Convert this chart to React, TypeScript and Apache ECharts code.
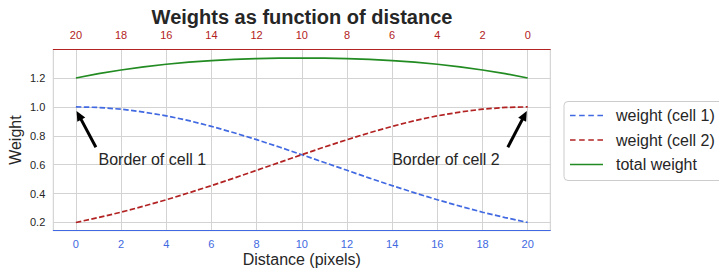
import React, { useEffect, useRef } from "react";
import * as echarts from "echarts";

// ---- data ----
const distances = [0, 1, 2, 3, 4, 5, 6, 7, 8, 9, 10, 11, 12, 13, 14, 15, 16, 17, 18, 19, 20];
const weightCell1 = [1.0, 0.996, 0.984, 0.964, 0.938, 0.905, 0.865, 0.821, 0.773, 0.722, 0.669, 0.615, 0.561, 0.507, 0.455, 0.405, 0.357, 0.313, 0.271, 0.234, 0.2];
const weightCell2 = [0.2, 0.234, 0.271, 0.313, 0.357, 0.405, 0.455, 0.507, 0.561, 0.615, 0.669, 0.722, 0.773, 0.821, 0.865, 0.905, 0.938, 0.964, 0.984, 0.996, 1.0];
const totalWeight = [1.2, 1.23, 1.255, 1.277, 1.295, 1.31, 1.32, 1.328, 1.334, 1.337, 1.338, 1.337, 1.334, 1.328, 1.32, 1.31, 1.295, 1.277, 1.255, 1.23, 1.2];

const seriesNames = ["weight (cell 1)", "weight (cell 2)", "total weight"];
const xTicks = [0, 2, 4, 6, 8, 10, 12, 14, 16, 18, 20];
const yTicks = [0.2, 0.4, 0.6, 0.8, 1.0, 1.2];

// annotations: text, text position (data), arrow tail (data), arrow tip (data)
const annotationTexts = ["Border of cell 1", "Border of cell 2"];
const annotationTextPos = [[1, 0.6], [14, 0.6]];
const arrowTails = [[0.886, 0.721], [19.12, 0.721]];
const arrowTips = [[0.03, 0.972], [19.96, 0.972]];

const FONT = "'Liberation Sans', Arial, sans-serif";
const BLUE = "#4169e1";
const RED = "#b22222";
const GREEN = "#228b22";
const DARK = "#262626";
const GRID = "#d3d3d3";

const dashIcon = "path://M0,0h5.3v1.5h-5.3z M8.7,0h5.3v1.5h-5.3z M17.4,0h5.3v1.5h-5.3z M26.1,0h5.3v1.5h-5.3z";
const solidIcon = "path://M0,0h31.4v1.5h-31.4z";

export default function App() {
  const ref = useRef<HTMLDivElement>(null);
  useEffect(() => {
    if (!ref.current) return;
    const chart = echarts.init(ref.current, null, { renderer: "svg" });
    const pts = (ys: number[]) => distances.map((d, i) => [d, ys[i]]);
    const option: any = {
      animation: false,
      backgroundColor: "#ffffff",
      textStyle: { fontFamily: FONT },
      title: {
        text: "Weights as function of distance",
        left: 302,
        top: 7,
        padding: 0,
        textAlign: "center",
        textStyle: { fontFamily: FONT, fontSize: 20, fontWeight: "bold", color: DARK },
      },
      grid: {
        left: 53.3,
        right: 168.7,
        top: 49.5,
        bottom: 38.3,
        show: true,
        borderColor: "#cccccc",
        borderWidth: 1,
        backgroundColor: "transparent",
        containLabel: false,
        outerBoundsMode: "none",
      },
      legend: {
        orient: "vertical",
        left: 564,
        top: 101.5,
        padding: [6, 30, 8, 6],
        itemWidth: 33,
        itemHeight: 1.6,
        itemGap: 8.5,
        borderColor: "#cccccc",
        borderWidth: 1,
        borderRadius: 4,
        backgroundColor: "#ffffff",
        textStyle: { fontFamily: FONT, fontSize: 16, color: DARK, lineHeight: 16, padding: [0, 0, 0, 8] },
        data: [
          { name: seriesNames[0], icon: dashIcon },
          { name: seriesNames[1], icon: dashIcon },
          { name: seriesNames[2], icon: solidIcon },
        ],
      },
      xAxis: [
        {
          type: "value",
          position: "bottom",
          min: -1,
          max: 21,
          name: "Distance (pixels)",
          nameLocation: "middle",
          nameGap: 21,
          nameMoveOverlap: false,
          nameTextStyle: { fontFamily: FONT, fontSize: 16, color: DARK, lineHeight: 16 },
          axisLine: { show: true, onZero: false, lineStyle: { color: BLUE, width: 1 } },
          axisTick: { show: false, customValues: xTicks },
          axisLabel: { customValues: xTicks, color: BLUE, fontSize: 11, margin: 8, fontFamily: FONT },
          splitLine: { show: true, lineStyle: { color: GRID, width: 1 } },
        },
        {
          type: "value",
          position: "top",
          inverse: true,
          min: -1,
          max: 21,
          axisLine: { show: true, onZero: false, lineStyle: { color: RED, width: 1 } },
          axisTick: { show: false, customValues: xTicks },
          axisLabel: { customValues: xTicks, color: RED, fontSize: 11, margin: 9, fontFamily: FONT },
          splitLine: { show: false },
        },
      ],
      yAxis: {
        type: "value",
        position: "left",
        min: 0.143,
        max: 1.397,
        name: "Weight",
        nameLocation: "middle",
        nameGap: 30,
        nameMoveOverlap: false,
        nameRotate: 90,
        nameTextStyle: { fontFamily: FONT, fontSize: 16, color: DARK },
        axisLine: { show: false, onZero: false },
        axisTick: { show: false, customValues: yTicks },
        axisLabel: {
          customValues: yTicks,
          color: DARK,
          fontSize: 11,
          margin: 8,
          fontFamily: FONT,
          formatter: (v: number) => v.toFixed(1),
        },
        splitLine: { show: true, lineStyle: { color: GRID, width: 1 } },
      },
      series: [
        {
          name: seriesNames[0],
          type: "line",
          data: pts(weightCell1),
          showSymbol: false,
          color: BLUE,
          lineStyle: { color: BLUE, width: 1.7, type: [5.5, 2.4] },
        },
        {
          name: seriesNames[1],
          type: "line",
          data: pts(weightCell2),
          showSymbol: false,
          color: RED,
          lineStyle: { color: RED, width: 1.7, type: [5.5, 2.4] },
        },
        {
          name: seriesNames[2],
          type: "line",
          data: pts(totalWeight),
          showSymbol: false,
          color: GREEN,
          lineStyle: { color: GREEN, width: 1.7 },
        },
      ],
    };
    chart.setOption(option);

    const graphics: any[] = [];
    annotationTexts.forEach((t, i) => {
      const tp = chart.convertToPixel({ gridIndex: 0 }, annotationTextPos[i]) as number[];
      graphics.push({
        type: "text",
        x: tp[0],
        y: tp[1] - 5.5,
        style: { text: t, fontFamily: FONT, fontSize: 16, fill: DARK, align: "left", verticalAlign: "middle" },
        z: 10,
      });
      const tail = chart.convertToPixel({ gridIndex: 0 }, arrowTails[i]) as number[];
      const tip = chart.convertToPixel({ gridIndex: 0 }, arrowTips[i]) as number[];
      const dx = tip[0] - tail[0];
      const dy = tip[1] - tail[1];
      const len = Math.sqrt(dx * dx + dy * dy);
      const ux = dx / len;
      const uy = dy / len;
      const headLen = 10;
      const headHalf = 4.5;
      const bx = tip[0] - ux * headLen;
      const by = tip[1] - uy * headLen;
      const px = -uy;
      const py = ux;
      graphics.push({
        type: "line",
        shape: { x1: tail[0], y1: tail[1], x2: bx + ux, y2: by + uy },
        style: { stroke: "#000000", lineWidth: 3 },
        z: 10,
      });
      graphics.push({
        type: "polygon",
        shape: {
          points: [
            [tip[0], tip[1]],
            [bx + px * headHalf, by + py * headHalf],
            [bx - px * headHalf, by - py * headHalf],
          ],
        },
        style: { fill: "#000000" },
        z: 10,
      });
    });
    chart.setOption({ graphic: graphics });

    return () => chart.dispose();
  }, []);
  return (
    <div
      ref={ref}
      style={{ position: "fixed", left: 0, top: 0, width: 719, height: 269, background: "#fff" }}
    />
  );
}
